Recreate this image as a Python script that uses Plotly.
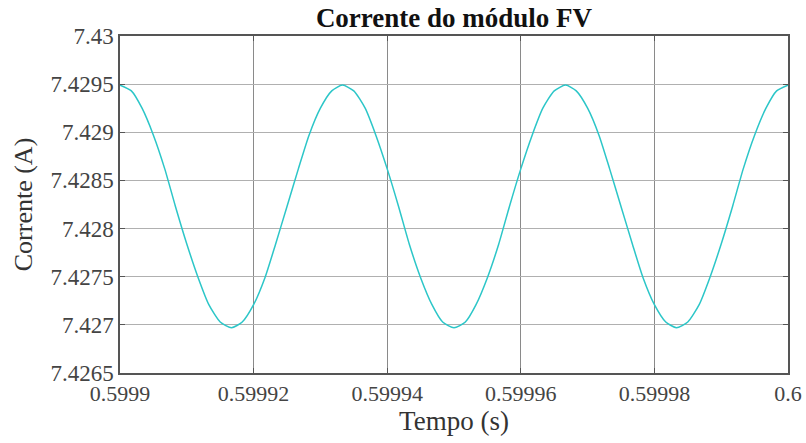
import plotly.graph_objects as go

# Sample times (s)
tempo = [
    0.5999000, 0.5999017, 0.5999033, 0.5999050, 0.5999067, 0.5999083, 0.5999100, 0.5999117,
    0.5999133, 0.5999150, 0.5999167, 0.5999183, 0.5999200, 0.5999217, 0.5999233, 0.5999250,
    0.5999267, 0.5999283, 0.5999300, 0.5999317, 0.5999333, 0.5999350, 0.5999367, 0.5999383,
    0.5999400, 0.5999417, 0.5999433, 0.5999450, 0.5999467, 0.5999483, 0.5999500, 0.5999517,
    0.5999533, 0.5999550, 0.5999567, 0.5999583, 0.5999600, 0.5999617, 0.5999633, 0.5999650,
    0.5999667, 0.5999683, 0.5999700, 0.5999717, 0.5999733, 0.5999750, 0.5999767, 0.5999783,
    0.5999800, 0.5999817, 0.5999833, 0.5999850, 0.5999867, 0.5999883, 0.5999900, 0.5999917,
    0.5999933, 0.5999950, 0.5999967, 0.5999983, 0.6000000,
]

# PV module current (A)
corrente = [
    7.42949, 7.42943, 7.42925, 7.42897, 7.42862, 7.42823, 7.42784, 7.42749,
    7.42721, 7.42703, 7.42697, 7.42703, 7.42721, 7.42749, 7.42784, 7.42823,
    7.42862, 7.42897, 7.42925, 7.42943, 7.42949, 7.42943, 7.42925, 7.42897,
    7.42862, 7.42823, 7.42784, 7.42749, 7.42721, 7.42703, 7.42697, 7.42703,
    7.42721, 7.42749, 7.42784, 7.42823, 7.42862, 7.42897, 7.42925, 7.42943,
    7.42949, 7.42943, 7.42925, 7.42897, 7.42862, 7.42823, 7.42784, 7.42749,
    7.42721, 7.42703, 7.42697, 7.42703, 7.42721, 7.42749, 7.42784, 7.42823,
    7.42862, 7.42897, 7.42925, 7.42943, 7.42949,
]

x_ticks = [0.5999, 0.59992, 0.59994, 0.59996, 0.59998, 0.6]
x_labels = ["0.5999", "0.59992", "0.59994", "0.59996", "0.59998", "0.6"]
y_ticks = [7.4265, 7.427, 7.4275, 7.428, 7.4285, 7.429, 7.4295, 7.43]
y_labels = ["7.4265", "7.427", "7.4275", "7.428", "7.4285", "7.429", "7.4295", "7.43"]

FONT = "Liberation Serif, DejaVu Serif, serif"
L, R, T, B = 120, 18, 36, 70
W, H = 806, 443

fig = go.Figure()
fig.add_trace(go.Scatter(
    x=tempo, y=corrente, mode="lines",
    line=dict(color="#2cc6c8", width=1.5, shape="spline", smoothing=0.6),
    showlegend=False, hoverinfo="skip",
))

fig.update_layout(
    width=W, height=H,
    margin=dict(l=L, r=R, t=T, b=B, autoexpand=False),
    paper_bgcolor="white", plot_bgcolor="white",
    font=dict(family=FONT, color="#333333", size=22),
    title=dict(text="<b>Corrente do módulo FV</b>", x=0.5, xanchor="center",
               xref="paper", yref="container", y=1 - 18 / H, yanchor="middle",
               font=dict(family=FONT, size=27, color="#111111"), automargin=False),
)

fig.update_xaxes(
    range=[0.5999, 0.6], tickvals=x_ticks, ticktext=x_labels,
    showgrid=True, gridcolor="#8a8a8a", gridwidth=1,
    showline=True, linecolor="#555555", linewidth=1.5, mirror="ticks",
    ticks="inside", ticklen=5, tickcolor="#555555",
    zeroline=False, automargin=False,
    title=dict(text="Tempo (s)", font=dict(family=FONT, size=27, color="#333333"), standoff=2),
    tickfont=dict(family=FONT, size=22, color="#444444"),
)
fig.update_yaxes(
    range=[7.4265, 7.43], tickvals=y_ticks, ticktext=y_labels,
    showgrid=True, gridcolor="#b0b0b0", gridwidth=1,
    showline=True, linecolor="#555555", linewidth=1.5, mirror="ticks",
    ticks="inside", ticklen=5, tickcolor="#555555",
    zeroline=False, automargin=False,
    title=dict(text="Corrente (A)", font=dict(family=FONT, size=26, color="#333333"), standoff=10),
    tickfont=dict(family=FONT, size=23, color="#444444"),
)

fig.write_html("out.html", config={"displayModeBar": False},
               post_script="document.body.style.margin='0px';")
